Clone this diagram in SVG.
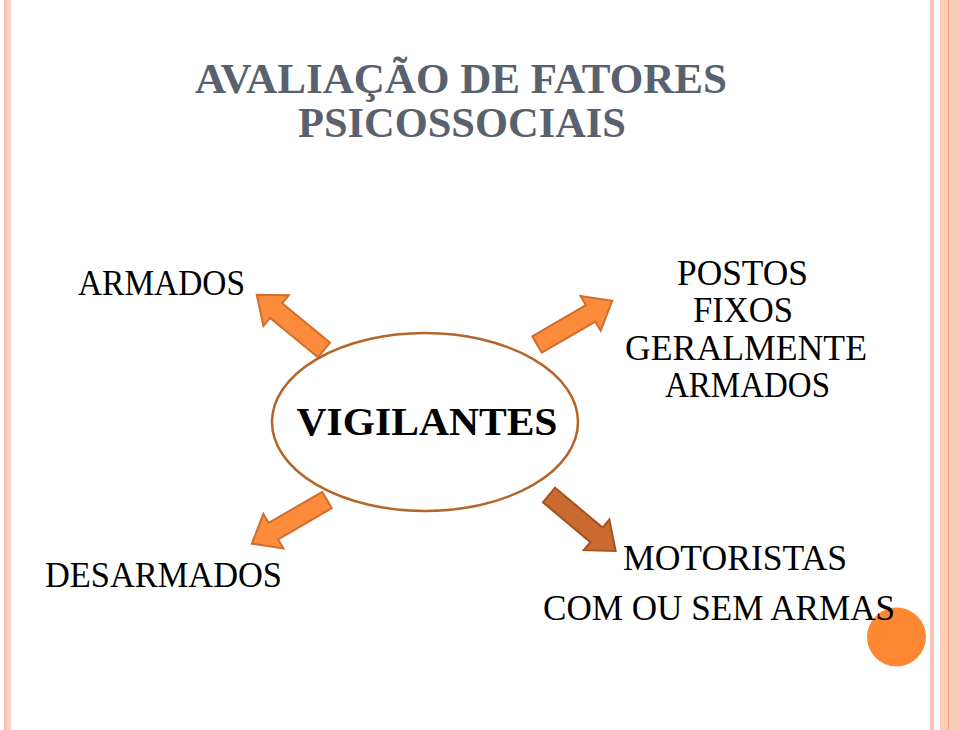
<svg xmlns="http://www.w3.org/2000/svg" width="960" height="730" viewBox="0 0 960 730">
<style>
.t{font-family:"Liberation Serif","DejaVu Serif",serif;fill:#000;}
.title{font-family:"Liberation Serif","DejaVu Serif",serif;font-weight:bold;fill:#59616e;font-size:42px;}
.arr{fill:#fd8b3c;stroke:#d06e2c;stroke-width:2;stroke-linejoin:miter;}
.arrd{fill:#c96a31;stroke:#a4531f;stroke-width:2;}
</style>
<defs>
<path id="ar" d="M0,-9.5 L62,-9.5 L62,-20 L87,0 L62,20 L62,9.5 L0,9.5 Z"/>
</defs>
<rect width="960" height="730" fill="#fff"/>
<g id="border">
<rect x="4" y="0" width="3" height="730" fill="#f4c2b0"/>
<rect x="7" y="0" width="4" height="730" fill="#fad3c4"/>
<rect x="930" y="0" width="4" height="730" fill="#f5c5b3"/>
<rect x="940" y="0" width="20" height="730" fill="#fdcbb6"/>
<rect x="948" y="0" width="1" height="730" fill="#eea07a"/>
</g>
<g id="title">
<text class="title" x="461" y="93" text-anchor="middle" textLength="532" lengthAdjust="spacingAndGlyphs">AVALIAÇÃO DE FATORES</text>
<text class="title" x="462" y="137" text-anchor="middle" textLength="328" lengthAdjust="spacingAndGlyphs">PSICOSSOCIAIS</text>
</g>
<g id="connectors">
<use href="#ar" class="arr" transform="translate(324,350) rotate(-140.6)"/>
<use href="#ar" class="arr" transform="translate(537,344.5) rotate(-30.1)"/>
<use href="#ar" class="arr" transform="translate(327,500) rotate(149.8)"/>
<use href="#ar" class="arrd" transform="translate(549,495) rotate(40)"/>
</g>
<g id="node-vigilantes">
<ellipse cx="425" cy="422" rx="153" ry="89" fill="#fff" stroke="#b5642a" stroke-width="2.5"/>
<text class="t" x="427" y="435" text-anchor="middle" font-size="40" font-weight="bold" textLength="261" lengthAdjust="spacingAndGlyphs">VIGILANTES</text>
</g>
<g id="node-armados">
<text class="t" x="161.5" y="295" text-anchor="middle" font-size="35" textLength="167" lengthAdjust="spacingAndGlyphs">ARMADOS</text>
</g>
<g id="node-postos">
<text class="t" x="742.5" y="285" text-anchor="middle" font-size="35" textLength="131" lengthAdjust="spacingAndGlyphs">POSTOS</text>
<text class="t" x="743" y="322" text-anchor="middle" font-size="35" textLength="100" lengthAdjust="spacingAndGlyphs">FIXOS</text>
<text class="t" x="746" y="360" text-anchor="middle" font-size="35" textLength="242" lengthAdjust="spacingAndGlyphs">GERALMENTE</text>
<text class="t" x="747.5" y="397" text-anchor="middle" font-size="35" textLength="165" lengthAdjust="spacingAndGlyphs">ARMADOS</text>
</g>
<g id="node-desarmados">
<text class="t" x="163.5" y="587" text-anchor="middle" font-size="35" textLength="237" lengthAdjust="spacingAndGlyphs">DESARMADOS</text>
</g>
<g id="decor">
<circle cx="896.5" cy="637" r="29.5" fill="#fd8732"/>
</g>
<g id="node-motoristas">
<text class="t" x="735" y="570" text-anchor="middle" font-size="35" textLength="224" lengthAdjust="spacingAndGlyphs">MOTORISTAS</text>
<text class="t" x="719" y="620" text-anchor="middle" font-size="35" textLength="352" lengthAdjust="spacingAndGlyphs">COM OU SEM ARMAS</text>
</g>
</svg>
